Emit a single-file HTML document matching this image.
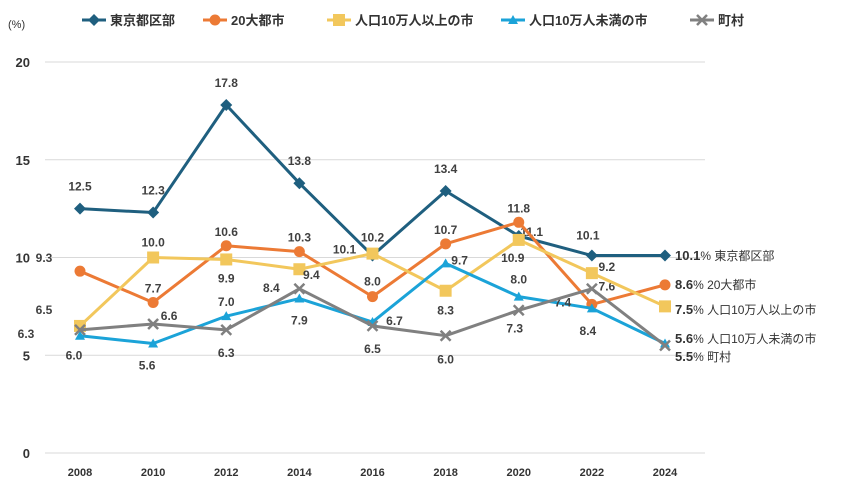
<!DOCTYPE html>
<html><head><meta charset="utf-8">
<style>
html,body{margin:0;padding:0;background:#fff;}
svg{display:block;font-family:"Liberation Sans","Noto Sans CJK JP",sans-serif;}
</style></head>
<body>
<svg id="chart" width="841" height="491" viewBox="0 0 841 491" xmlns="http://www.w3.org/2000/svg"></svg>
<script>
const years = [2008,2010,2012,2014,2016,2018,2020,2022,2024];
const seriesNames = ["東京都区部","20大都市","人口10万人以上の市","人口10万人未満の市","町村"];
const tokyo = [12.5,12.3,17.8,13.8,10.1,13.4,11.1,10.1,10.1];
const city20 = [9.3,7.7,10.6,10.3,8.0,10.7,11.8,7.6,8.6];
const over100k = [6.5,10.0,9.9,9.4,10.2,8.3,10.9,9.2,7.5];
const under100k = [6.0,5.6,7.0,7.9,6.7,9.7,8.0,7.4,5.6];
const towns = [6.3,6.6,6.3,8.4,6.5,6.0,7.3,8.4,5.5];
const yTicks = [0,5,10,15,20];

const colors = ["#1f5f7f","#ec7a35","#f2c75c","#1ba3d8","#808080"];
const markers = ["diamond","circle","square","triangle","x"];
const allSeries = [tokyo,city20,over100k,under100k,towns];
// label offsets (dx,dy) per point — styling only
const offs = [
 [[0,-22],[0,-22],[0,-22],[0,-22],[-28,-6],[0,-22],[13,-4],[-4,-20],null],
 [[-36,-13],[0,-14],[0,-14],[0,-14],[0,-15],[0,-14],[0,-14],[15,-18],null],
 [[-36,-16],[0,-15],[0,19],[12,6],[0,-16],[0,20],[-6,18],[15,-6],null],
 [[-6,20],[-6,22],[0,-14],[0,22],[22,-1],[14,-3],[0,-17],[-29,-6],null],
 [[-54,4],[16,-8],[0,23],[-28,-1],[0,23],[0,24],[-4,18],[-4,42],null]
];
const svg = document.getElementById('chart');
const NS = "http://www.w3.org/2000/svg";
const x = yr => 80 + (yr-2008)/16*585;
const y = v => 453 - v*19.55;
function mk(tag, attrs){const e=document.createElementNS(NS,tag);for(const k in attrs)e.setAttribute(k,attrs[k]);svg.appendChild(e);return e;}

yTicks.forEach(t=>{
  const g = mk('line',{x1:45,x2:705,y1:y(t),y2:y(t),stroke:'#d9d9d9','stroke-width':1});
  
  
  const tx = mk('text',{x:30,y:y(t)+5,'text-anchor':'end','font-size':13,'font-weight':'bold',fill:'#333'});
  tx.textContent = t;
  
  
});
const unit = mk('text',{x:8,y:28,'font-size':11,fill:'#333'});
unit.textContent='(%)';


years.forEach(yr=>{
  const tx = mk('text',{x:x(yr),y:476,'text-anchor':'middle','font-size':11,'font-weight':'bold',fill:'#333'});
  tx.textContent=yr;
  
  
});

function marker(type,cx,cy,c){
  let e;
  if(type==='diamond') e=mk('polygon',{points:`${cx},${cy-6} ${cx+6},${cy} ${cx},${cy+6} ${cx-6},${cy}`,fill:c});
  else if(type==='circle') e=mk('circle',{cx,cy,r:5.5,fill:c});
  else if(type==='square') e=mk('rect',{x:cx-6,y:cy-6,width:12,height:12,fill:c});
  else if(type==='triangle') e=mk('polygon',{points:`${cx},${cy-5} ${cx+5},${cy+4} ${cx-5},${cy+4}`,fill:c});
  else e=mk('path',{d:`M${cx-5},${cy-5}L${cx+5},${cy+5}M${cx+5},${cy-5}L${cx-5},${cy+5}`,stroke:c,'stroke-width':2.5});
  return e;
}

allSeries.forEach((vals,si)=>{
  const c=colors[si];
  const pl = mk('polyline',{points:vals.map((v,i)=>x(years[i])+','+y(v)).join(' '),fill:'none',stroke:c,'stroke-width':3,'stroke-linejoin':'round'});
  
  
  vals.forEach((v,i)=>{
    const m = marker(markers[si],x(years[i]),y(v),c);
    
    
    const o = offs[si][i];
    if(o){
      const t = mk('text',{x:x(years[i])+o[0],y:y(v)+o[1]+4,'text-anchor':'middle','font-size':12,'font-weight':'bold',fill:'#404040'});
      t.textContent=v.toFixed(1);
      
      
    }
  });
});

const endY=[255,284,309,338,356];
allSeries.forEach((vals,si)=>{
  const t = mk('text',{x:675,y:endY[si]+5,'font-size':12,fill:'#333'});
  t.innerHTML = `<tspan font-weight="bold" font-size="13">${vals[vals.length-1].toFixed(1)}</tspan><tspan>% ${seriesNames[si]}</tspan>`;
  
  
});

const legX=[82,203,327,501,690];
seriesNames.forEach((n,si)=>{
  const l = mk('line',{x1:legX[si],x2:legX[si]+24,y1:20,y2:20,stroke:colors[si],'stroke-width':3});
  
  
  const m = marker(markers[si],legX[si]+12,20,colors[si]);
  
  
  const t = mk('text',{x:legX[si]+28,y:25,'font-size':13,'font-weight':'bold',fill:'#333'});
  t.textContent=n;
  
  
});
</script>
</body></html>
